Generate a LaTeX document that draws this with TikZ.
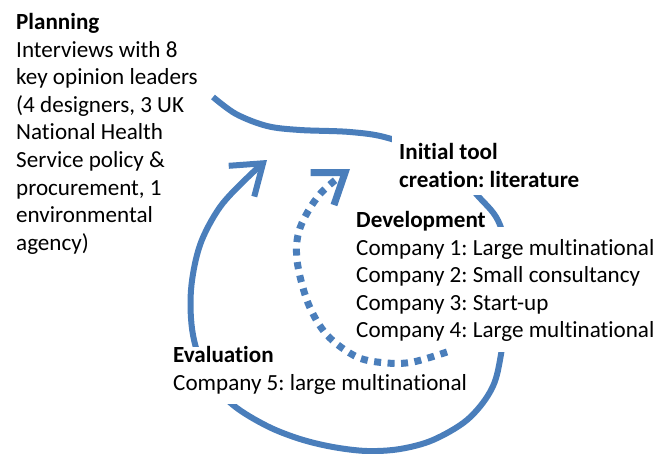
\documentclass[tikz,border=0pt]{standalone}
\usepackage{fontspec}
\setmainfont{Carlito}[Ligatures=NoCommon]
\usetikzlibrary{arrows.meta}
\definecolor{cycleblue}{RGB}{74,126,187}
\pgfdeclarelayer{track}
\pgfdeclarelayer{mask}
\pgfsetlayers{track,mask,main}
\frenchspacing
\begin{document}
\begin{tikzpicture}[x=1pt,y=-1pt,
  txt/.style={anchor=north west, inner sep=0pt, align=left,
    font=\fontsize{23.1}{27.6}\selectfont},
  mainflow/.style={draw=cycleblue, line width=6pt, line cap=butt, line join=round},
  minorflow/.style={draw=cycleblue, line width=7pt, dash pattern=on 7pt off 6.5pt},
  barb/.style={-{Straight Barb[length=28pt, width=40pt, line cap=butt, line join=miter]}},
  cover/.style={fill=white}
]
\useasboundingbox (0,0) rectangle (667,453);

% text blocks
\node[txt] (plan) at (16,13) {\textbf{Planning}\\Interviews with 8\\key opinion leaders\\(4 designers, 3 UK\\National Health\\Service policy \&\\procurement, 1\\environmental\\agency)};
\node[txt, font=\fontsize{23.1}{27.6}\selectfont\bfseries] (init) at (399,143) {Initial tool\\creation: literature};
\node[txt] (dev) at (356,211) {\textbf{Development}\\Company 1: Large multinational\\Company 2: Small consultancy\\Company 3: Start-up\\Company 4: Large multinational};
\node[txt] (eval) at (173,346) {\textbf{Evaluation}\\Company 5: large multinational};

% ends of the two cycles
\coordinate (spiralstart) at (213,97);
\coordinate (spiralend) at (267,160);
\coordinate (loopstart) at (447,352);
\coordinate (loopend) at (350,169);

% outer cycle, running behind the text blocks
\begin{pgfonlayer}{track}
\draw[mainflow, barb] plot[smooth, tension=0.55] coordinates {
  (spiralstart) (236,114) (267,126) (300,130) (350,132) (388,138)
  (440,158) (478,196) (500,225) (510,280) (500,360)
  (490,392) (467,420) (433,440) (400,449) (367,451) (333,447)
  (300,439) (267,426) (233,405)
  (207,376) (193,335) (191,290) (200,245) (220,207) (248,177) (spiralend)};
\end{pgfonlayer}

% white panels behind the text where the cycle passes underneath
\begin{pgfonlayer}{mask}
\fill[cover] (392,134) rectangle (585,195);
\fill[cover] (350,227) rectangle (662,352);
\fill[cover] (166,347) rectangle (469,404);
\end{pgfonlayer}

% inner dotted cycle
\draw[minorflow, barb] plot[smooth, tension=0.55] coordinates {
  (loopstart) (413,362) (387,363) (357,357) (327,335) (308,303)
  (297,260) (300,228) (320,194) (loopend)};
\end{tikzpicture}
\end{document}
